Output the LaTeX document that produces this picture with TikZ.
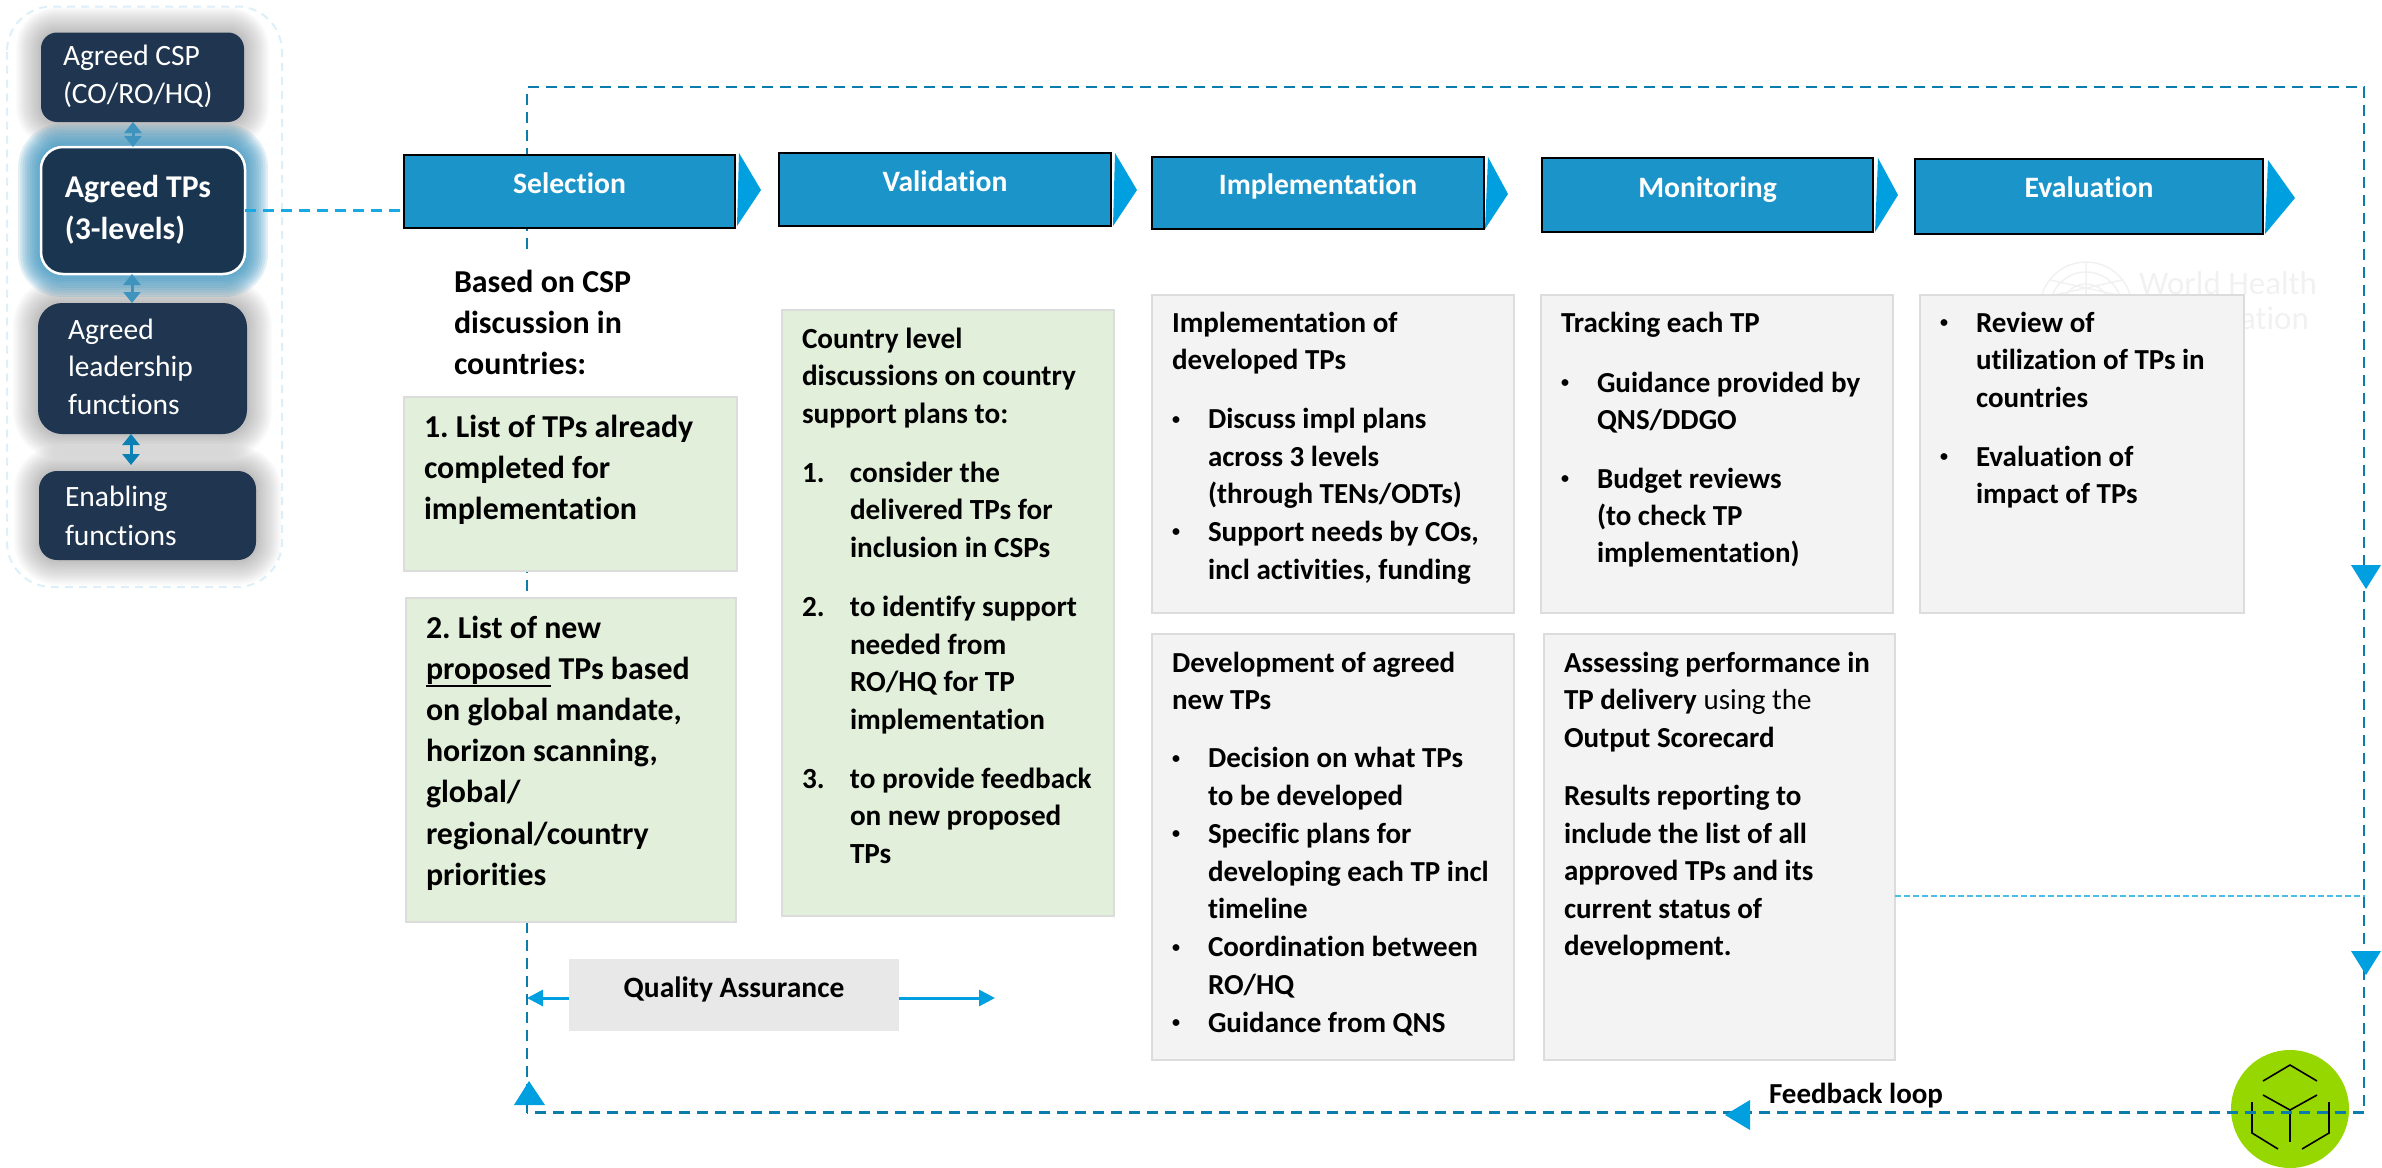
\documentclass[tikz,border=0pt]{standalone}
\usepackage{fontspec}
\setmainfont{Carlito}[Ligatures=NoCommon]
\usetikzlibrary{arrows.meta}
\definecolor{navy}{HTML}{203650}
\definecolor{navyb}{HTML}{1A3550}
\definecolor{hdr}{HTML}{1B94C9}
\definecolor{tri}{HTML}{009FDF}
\definecolor{loopc}{HTML}{0B7CAC}
\definecolor{greenf}{HTML}{E2EFDA}
\definecolor{grayf}{HTML}{F3F3F3}
\definecolor{edge}{HTML}{DCDCDC}
\definecolor{glow}{HTML}{3E94BE}
\definecolor{lime}{HTML}{97D700}
\definecolor{outerc}{HTML}{DDEFF8}
\definecolor{wm}{HTML}{F1F1F1}
\frenchspacing
% width, height, left pad, first baseline, size, leading, content
\newcommand\tb[7]{\parbox[c][#2pt][t]{#1pt}{\fontsize{#5}{#6}\selectfont\raggedright\leftskip=#3pt\relax\rule{0pt}{#4pt}#7\par}}
\newcommand\hb[4]{\parbox[c][#2pt][t]{#1pt}{\fontsize{29.6}{34}\selectfont\centering\rule{0pt}{#3pt}#4\par}}
\newcommand\bu{\makebox[36pt][l]{\fontsize{16}{16}\selectfont\raisebox{4.5pt}{•}}}
\newcommand\bi{\hspace*{36pt}}
\newcommand\nm[1]{\makebox[48pt][l]{#1}}
\newcommand\ul[1]{\leavevmode\setbox0\hbox{#1}\rlap{\rule[-8pt]{\wd0}{2pt}}\box0\relax}
% corner a, corner b, radius, colour, opacity, steps, spread
\newcommand\softshadow[7]{%
  \foreach \i in {1,...,#6}{%
    \draw[line width=\i*#7*2pt/#6,draw=#4,opacity=#5,rounded corners=#3pt,line join=round]
      (#1) rectangle (#2);}}
\tikzset{
  x=1pt,y=-1pt,
  anybox/.style={anchor=north west,inner sep=0pt,outer sep=0pt},
  dark/.style={anybox,fill=navy,text=white},
  head/.style={anybox,fill=hdr,draw=black,line width=2.5pt,text=white,font=\bfseries},
  greenbox/.style={anybox,fill=greenf,draw=edge,line width=2.5pt,font=\bfseries},
  graybox/.style={anybox,fill=grayf,draw=edge,line width=2.5pt,font=\bfseries},
  plain/.style={anybox,font=\bfseries},
  loopline/.style={draw=loopc,line width=2.6pt,dash pattern=on 11pt off 7pt},
  link/.style={draw=tri!90!white,line width=3pt,dash pattern=on 11pt off 7pt},
  thinline/.style={draw=tri!70!white,line width=1.6pt,dash pattern=on 6pt off 3pt},
  qaarrow/.style={draw=tri,line width=3pt,-{Triangle[width=16pt,length=16pt]}},
  twoway/.style={draw=#1,fill=#1,line width=3pt,{Triangle[width=17pt,length=11pt]}-{Triangle[width=17pt,length=11pt]}},
  cube/.style={draw=black,line width=1.6pt,line join=miter},
}
\begin{document}
\begin{tikzpicture}
\useasboundingbox (0,0) rectangle (2382,1167);
% watermark
\node[anybox,text=wm,font=\fontsize{33}{35}\selectfont,align=left] (who) at (2139,272) {World Health\\Organization};
\draw[wm,line width=1.5pt] (2086,308) circle (46pt) (2086,308) circle (36pt) (2086,308) circle (24pt)
  (2086,262) -- (2086,295) (2050,280) -- (2122,296) (2122,280) -- (2050,296);
% outer group
\draw[draw=outerc,line width=2pt,dash pattern=on 8pt off 6pt,rounded corners=45pt] (7,6.5) rectangle (282,587);
% shadows
\softshadow{41,32.5}{244,122}{15}{black}{0.02}{14}{25}
\softshadow{38,303}{247,434}{22}{black}{0.02}{14}{25}
\softshadow{39,471}{256,560}{18}{black}{0.02}{14}{25}
\softshadow{41,147}{245,274}{20}{glow}{0.15}{10}{23}
% left stack
\node[dark,rounded corners=16pt] (csp) at (41,32.5) {\tb{203}{89.5}{22}{32.5}{29.5}{38}{Agreed CSP\\(CO/RO/HQ)}};
\node[dark,fill=navyb,draw=white,line width=2.5pt,rounded corners=22pt,font=\bfseries] (tps) at (41,147) {\tb{204}{127}{24}{50}{31.7}{42.5}{Agreed TPs\\(3-levels)}};
\node[dark,rounded corners=24pt] (lead) at (38,303) {\tb{209}{131}{30}{36}{29.5}{37.8}{Agreed\\leadership\\functions}};
\node[dark,rounded corners=18pt] (enab) at (39,471) {\tb{217}{89}{26}{35.5}{29.5}{38.5}{Enabling\\functions}};
\draw[twoway=glow] ([xshift=-9.5pt]csp.south) -- ([xshift=-10pt]tps.north);
\draw[twoway=glow] ([xshift=-11pt]tps.south) -- ([xshift=-10.5pt]lead.north);
\draw[twoway=tri!70!navy] ([xshift=-11.5pt]lead.south) -- ([xshift=-16.5pt,yshift=6pt]enab.north);
% green disc
\fill[lime] (2290,1109) circle (59pt);
\draw[cube] (2263,1081) -- (2290,1065) -- (2317,1081);
\draw[cube] (2263,1095) -- (2290,1110) -- (2317,1095);
\draw[cube] (2290,1110) -- (2290,1142);
\draw[cube] (2252,1102) -- (2252,1133) -- (2278,1149);
\draw[cube] (2329,1102) -- (2329,1133) -- (2302,1149);
% loop
\coordinate (lbl) at (527,1112.5);
\coordinate (ltl) at (527,87);
\coordinate (ltr) at (2364,87);
\coordinate (lbr) at (2364,1112.5);
\draw[loopline] (lbl) -- (ltl) -- (ltr) -- (lbr) -- (lbl);
% headers
\node[head] (sel) at (404,155) {\hb{331}{73}{38}{Selection}};
\node[head] (val) at (779,153) {\hb{332}{73}{38}{Validation}};
\node[head] (imp) at (1152,157) {\hb{332}{72}{37}{Implementation}};
\node[head] (mon) at (1542,158) {\hb{331}{74}{39}{Monitoring}};
\node[head] (eva) at (1915,159) {\hb{348}{75}{38}{Evaluation}};
\fill[tri] (739,153) -- (761,190) -- (737,226) -- cycle;
\fill[tri] (1115,153) -- (1137,190) -- (1113,226) -- cycle;
\fill[tri] (1488,157) -- (1508,194) -- (1485,229) -- cycle;
\fill[tri] (1878,158) -- (1898,195) -- (1875,232) -- cycle;
\fill[tri] (2268,160) -- (2295,198) -- (2265,234) -- cycle;
\draw[link] (tps.east) -- (tps.east -| sel.west);
% column 1
\node[plain,fill=white] (based) at (404,250) {\tb{334}{146}{50}{42}{31.9}{41}{Based on CSP\\discussion in\\countries:}};
\node[greenbox] (g1) at (404,397) {\tb{333}{174}{20}{40}{31.9}{41}{1. List of TPs already\\completed for\\implementation}};
\node[greenbox] (g2) at (406,598) {\tb{330}{324}{20}{40}{31.9}{41.2}{2. List of new\\\ul{proposed} TPs based\\on global mandate,\\horizon scanning,\\global/\\regional/country\\priorities}};
% column 2
\node[greenbox] (g3) at (782,310) {\tb{332}{606}{20}{38}{29.2}{37.6}{Country level\\discussions on country\\support plans to:\\[21.4pt]
\nm{1.}consider the\\\nm{}delivered TPs for\\\nm{}inclusion in CSPs\\[21.4pt]
\nm{2.}to identify support\\\nm{}needed from\\\nm{}RO/HQ for TP\\\nm{}implementation\\[21.4pt]
\nm{3.}to provide feedback\\\nm{}on new proposed\\\nm{}TPs}};
% column 3
\node[graybox] (i1) at (1152,295) {\tb{362}{318}{20}{37}{29}{37.6}{Implementation of\\developed TPs\\[21.4pt]
\bu Discuss impl plans\\\bi across 3 levels\\\bi (through TENs/ODTs)\\
\bu Support needs by COs,\\\bi incl activities, funding}};
\node[graybox] (i2) at (1152,634) {\tb{362}{426}{20}{38}{29}{37.8}{Development of agreed\\new TPs\\[20pt]
\bu Decision on what TPs\\\bi to be developed\\
\bu Specific plans for\\\bi developing each TP incl\\\bi timeline\\
\bu Coordination between\\\bi RO/HQ\\
\bu Guidance from QNS}};
% column 4
\node[graybox] (m1) at (1541,295) {\tb{352}{318}{20}{37}{29}{37}{Tracking each TP\\[23pt]
\bu Guidance provided by\\\bi QNS/DDGO\\[22pt]
\bu Budget reviews\\\bi (to check TP\\\bi implementation)}};
\node[graybox] (perf) at (1544,634) {\tb{351}{426}{20}{38}{29}{37.6}{Assessing performance in\\TP delivery {\mdseries using the}\\Output Scorecard\\[20.6pt]
Results reporting to\\include the list of all\\approved TPs and its\\current status of\\development.}};
\coordinate (thinend) at (2365,896);
\draw[thinline] (perf.east |- thinend) -- (thinend);
% column 5
\node[graybox] (e1) at (1920,295) {\tb{324}{318}{20}{37}{29}{37.6}{\bu Review of\\\bi utilization of TPs in\\\bi countries\\[21.4pt]
\bu Evaluation of\\\bi impact of TPs}};
% loop heads
\fill[tri] (2351,565) -- (2381,565) -- (2366,589) -- cycle;
\fill[tri] (2351,951) -- (2381,951) -- (2366,975) -- cycle;
\fill[tri] (514,1105) -- (545,1105) -- (529,1081) -- cycle;
\fill[tri] (1750,1100) -- (1750,1130) -- (1725,1115) -- cycle;
% quality assurance
\node[anybox,fill=black!9,font=\bfseries] (qa) at (569,959) {\parbox[c][72pt][t]{330pt}{\fontsize{29.5}{34}\selectfont\centering\rule{0pt}{38pt}Quality Assurance\par}};
\coordinate (qal) at (527,998);
\coordinate (qar) at (995,998);
\draw[qaarrow] ([yshift=-3pt]qa.west) -- (qal);
\draw[qaarrow] ([yshift=-3pt]qa.east) -- (qar);
% feedback label
\node[plain] (fb) at (1769,1075) {\tb{180}{36}{0}{28}{29}{34}{Feedback loop}};
\end{tikzpicture}
\end{document}
